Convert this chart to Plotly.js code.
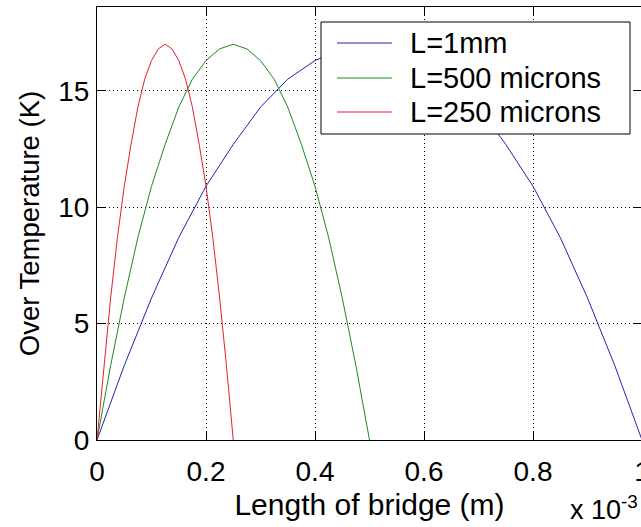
<!DOCTYPE html>
<html>
<head>
<meta charset="utf-8">
<script src="https://cdn.plot.ly/plotly-3.0.1.min.js"></script>
<style>
html,body{margin:0;padding:0;overflow:hidden;background:#fff;}
#chart{width:660px;height:527px;}
</style>
</head>
<body>
<div id="chart"></div>
<script>
// Data
var seriesNames = ['L=1mm', 'L=500 microns', 'L=250 microns'];

var x1mm = [0, 0.05e-3, 0.10e-3, 0.15e-3, 0.20e-3, 0.25e-3, 0.30e-3, 0.35e-3, 0.40e-3, 0.45e-3, 0.50e-3,
            0.55e-3, 0.60e-3, 0.65e-3, 0.70e-3, 0.75e-3, 0.80e-3, 0.85e-3, 0.90e-3, 0.95e-3, 1.00e-3];
var y1mm = [0, 3.2, 6.1, 8.7, 10.9, 12.7, 14.3, 15.5, 16.3, 16.8, 17.0,
            16.8, 16.3, 15.5, 14.3, 12.7, 10.9, 8.7, 6.1, 3.2, 0];

var x500 = [0, 0.025e-3, 0.050e-3, 0.075e-3, 0.100e-3, 0.125e-3, 0.150e-3, 0.175e-3, 0.200e-3, 0.225e-3, 0.250e-3,
            0.275e-3, 0.300e-3, 0.325e-3, 0.350e-3, 0.375e-3, 0.400e-3, 0.425e-3, 0.450e-3, 0.475e-3, 0.500e-3];
var y500 = [0, 3.2, 6.1, 8.7, 10.9, 12.7, 14.3, 15.5, 16.3, 16.8, 17.0,
            16.8, 16.3, 15.5, 14.3, 12.7, 10.9, 8.7, 6.1, 3.2, 0];

var x250 = [0, 0.0125e-3, 0.0250e-3, 0.0375e-3, 0.0500e-3, 0.0625e-3, 0.0750e-3, 0.0875e-3, 0.1000e-3, 0.1125e-3, 0.1250e-3,
            0.1375e-3, 0.1500e-3, 0.1625e-3, 0.1750e-3, 0.1875e-3, 0.2000e-3, 0.2125e-3, 0.2250e-3, 0.2375e-3, 0.2500e-3];
var y250 = [0, 3.2, 6.1, 8.7, 10.9, 12.7, 14.3, 15.5, 16.3, 16.8, 17.0,
            16.8, 16.3, 15.5, 14.3, 12.7, 10.9, 8.7, 6.1, 3.2, 0];

var xTickVals = [0, 0.2e-3, 0.4e-3, 0.6e-3, 0.8e-3, 1e-3];
var xTickText = ['0', '0.2', '0.4', '0.6', '0.8', '1'];
var yTickVals = [0, 5, 10, 15];

var colors = ['#2323b0', '#1f8a1f', '#e3222a'];

var FONT = 'Liberation Sans, Arial, sans-serif';

var traces = [
  {x: x1mm, y: y1mm, name: seriesNames[0], mode: 'lines', line: {color: colors[0], width: 1}},
  {x: x500, y: y500, name: seriesNames[1], mode: 'lines', line: {color: colors[1], width: 1}},
  {x: x250, y: y250, name: seriesNames[2], mode: 'lines', line: {color: colors[2], width: 1}}
];

// plot-area geometry (pixels) used to place the MATLAB-style legend box
var M = {l: 97, r: 18, t: 7, b: 87};
var W = 660, H = 527;
var PW = W - M.l - M.r, PH = H - M.t - M.b;
function px(x) { return (x - M.l) / PW; }
function py(y) { return (H - M.b - y) / PH; }

var legBox = {x0: 321, x1: 630, y0: 22, y1: 134};
var legRowsY = [43, 78, 112];
var legLineX = [337, 392];
var legTextX = 408;

var shapes = [{
  type: 'rect', xref: 'paper', yref: 'paper', layer: 'above',
  x0: px(legBox.x0), x1: px(legBox.x1), y0: py(legBox.y1), y1: py(legBox.y0),
  line: {color: '#000', width: 1}, fillcolor: '#fff'
}];
var annotations = [];
for (var i = 0; i < seriesNames.length; i++) {
  shapes.push({
    type: 'line', xref: 'paper', yref: 'paper', layer: 'above',
    x0: px(legLineX[0]), x1: px(legLineX[1]), y0: py(legRowsY[i]), y1: py(legRowsY[i]),
    line: {color: colors[i], width: 1}
  });
  annotations.push({
    xref: 'paper', yref: 'paper', x: px(legTextX), y: py(legRowsY[i]),
    xanchor: 'left', yanchor: 'middle', showarrow: false,
    text: seriesNames[i], font: {family: FONT, size: 29, color: '#000'}
  });
}
annotations.push({
  xref: 'paper', yref: 'paper', x: 1.0, y: 0, xanchor: 'right', yanchor: 'bottom',
  yshift: -87, xshift: -2,
  text: 'x 10<sup>-3</sup>', showarrow: false,
  font: {family: FONT, size: 27, color: '#000'}
});

var axisCommon = {
  showline: true, linecolor: '#000', linewidth: 1, mirror: 'ticks',
  ticks: 'inside', ticklen: 8, tickcolor: '#000', tickwidth: 1,
  showgrid: true, gridcolor: '#000', gridwidth: 1, griddash: '1px,3px',
  zeroline: false,
  tickfont: {family: FONT, size: 28, color: '#000'}
};

var layout = {
  width: W, height: H,
  margin: {l: M.l, r: M.r, t: M.t, b: M.b, pad: 0},
  paper_bgcolor: '#fff', plot_bgcolor: '#fff',
  font: {family: FONT, color: '#000'},
  showlegend: false,
  xaxis: Object.assign({}, axisCommon, {
    range: [0, 1e-3], tickmode: 'array', tickvals: xTickVals, ticktext: xTickText,
    ticklabelstandoff: 6,
    title: {text: 'Length of bridge (m)', font: {family: FONT, size: 30, color: '#000'}, standoff: 8}
  }),
  yaxis: Object.assign({}, axisCommon, {
    range: [0, 18.6], tickmode: 'array', tickvals: yTickVals,
    ticklabelstandoff: 1,
    title: {text: 'Over Temperature (K)', font: {family: FONT, size: 27.5, color: '#000'}, standoff: 10}
  }),
  shapes: shapes,
  annotations: annotations
};

Plotly.newPlot('chart', traces, layout, {displayModeBar: false, staticPlot: true});
</script>
</body>
</html>
